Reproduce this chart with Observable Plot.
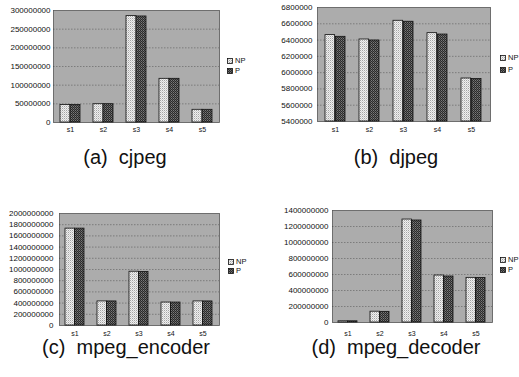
<!DOCTYPE html>
<html>
<head>
<meta charset="utf-8">
<script src="https://cdn.jsdelivr.net/npm/d3@7"></script>
<script src="https://cdn.jsdelivr.net/npm/@observablehq/plot@0.6"></script>
<style>
  html, body { margin: 0; padding: 0; background: #fff; }
  #root { position: relative; width: 519px; height: 377px; overflow: hidden; font-family: "Liberation Sans", Arial, sans-serif; }
  .cap { position: absolute; width: 300px; text-align: center; font-size: 20px; line-height: 20px; white-space: pre; color: #111; }
  .leg { position: absolute; font-size: 7.5px; line-height: 8px; color: #111; display: flex; align-items: center; }
  .leg svg { margin-right: 2px; }
</style>
</head>
<body>
<svg width="0" height="0" style="position:absolute">
  <defs>
    <pattern id="bg" width="2" height="2" patternUnits="userSpaceOnUse">
      <rect width="2" height="2" fill="#c8c8c8"/>
      <rect x="0" y="0" width="1" height="1" fill="#888888"/>
      <rect x="1" y="1" width="1" height="1" fill="#979797"/>
    </pattern>
    <pattern id="npPat" width="2" height="2" patternUnits="userSpaceOnUse">
      <rect width="2" height="2" fill="#f0f0f0"/>
      <rect x="0" y="0" width="1" height="1" fill="#a4a4a4"/>
      <rect x="1" y="1" width="1" height="1" fill="#cfcfcf"/>
    </pattern>
    <pattern id="pPat" width="2" height="2" patternUnits="userSpaceOnUse">
      <rect width="2" height="2" fill="#2a2a2a"/>
      <rect x="1" y="0" width="1" height="1" fill="#7a7a7a"/>
      <rect x="0" y="1" width="1" height="1" fill="#5a5a5a"/>
    </pattern>
  </defs>
</svg>
<div id="root"></div>
<script>
const categories = ["s1", "s2", "s3", "s4", "s5"];
const seriesNames = ["NP", "P"];

const cjpegNP = [47000000, 49000000, 285000000, 117000000, 34000000];
const cjpegP  = [47000000, 49000000, 284000000, 117000000, 34000000];
const cjpegTicks = [0, 50000000, 100000000, 150000000, 200000000, 250000000, 300000000];

const djpegNP = [6461000, 6407000, 6637000, 6485000, 5928000];
const djpegP  = [6440000, 6395000, 6625000, 6468000, 5922000];
const djpegTicks = [5400000, 5600000, 5800000, 6000000, 6200000, 6400000, 6600000, 6800000];

const encNP = [1730000000, 430000000, 960000000, 410000000, 430000000];
const encP  = [1730000000, 430000000, 955000000, 410000000, 430000000];
const encTicks = [0, 200000000, 400000000, 600000000, 800000000, 1000000000, 1200000000, 1400000000, 1600000000, 1800000000, 2000000000];

const decNP = [15000000, 135000000, 1287000000, 587000000, 558000000];
const decP  = [15000000, 133000000, 1275000000, 575000000, 557000000];
const decTicks = [0, 200000000, 400000000, 600000000, 800000000, 1000000000, 1200000000, 1400000000];

const captions = ["(a)  cjpeg", "(b)  djpeg", "(c)  mpeg_encoder", "(d)  mpeg_decoder"];

const root = document.getElementById("root");

function panel(o) {
  const rows = categories.map((c, i) => ({cat: c, np: o.np[i], p: o.p[i]}));
  const pi = 0.4, po = 0.2;
  const plotW = o.width - o.ml - o.mr;
  const step = plotW / (categories.length - pi + 2 * po);
  const half = step * (1 - pi) / 2;
  const base = o.ticks[0];
  const domain = [o.ticks[0], o.ticks[o.ticks.length - 1]];
  const chart = Plot.plot({
    width: o.width,
    height: o.height,
    marginLeft: o.ml, marginRight: o.mr, marginTop: o.mt, marginBottom: o.mb,
    style: {fontFamily: "'Liberation Sans', Arial, sans-serif", background: "transparent", color: "#111", overflow: "visible"},
    x: {type: "band", domain: categories, paddingInner: pi, paddingOuter: po, axis: null},
    y: {domain, axis: null},
    marks: [
      Plot.frame({fill: "url(#bg)", stroke: "#555", strokeWidth: 0.8}),
      Plot.gridY(o.ticks.slice(1, -1), {stroke: "#222", strokeOpacity: 0.5, strokeWidth: 0.7, strokeDasharray: "1.5,1.5"}),
      Plot.barY(rows, {x: "cat", y1: base, y2: "np", fill: "url(#npPat)", stroke: "#111", strokeWidth: 0.8, insetRight: half}),
      Plot.barY(rows, {x: "cat", y1: base, y2: "p", fill: "url(#pPat)", stroke: "#111", strokeWidth: 0.8, insetLeft: half}),
      Plot.axisY(o.ticks, {tickSize: 0, tickPadding: o.yPad, tickFormat: d3.format("d"), label: null, fontSize: 8}),
      Plot.axisX({tickSize: 0, tickPadding: o.xPad, label: null, fontSize: 7})
    ]
  });
  chart.style.position = "absolute";
  chart.style.left = o.left + "px";
  chart.style.top = o.top + "px";
  root.appendChild(chart);

  // legend
  const pats = ["npPat", "pPat"];
  seriesNames.forEach((name, i) => {
    const d = document.createElement("div");
    d.className = "leg";
    d.style.left = o.legX + "px";
    d.style.top = (o.legY[i] - 4) + "px";
    d.innerHTML = `<svg width="6" height="6"><rect x="0.5" y="0.5" width="5" height="5" fill="url(#${pats[i]})" stroke="#111" stroke-width="0.8"/></svg><span>${name}</span>`;
    root.appendChild(d);
  });

  const cap = document.createElement("div");
  cap.className = "cap";
  cap.textContent = o.caption;
  cap.style.left = (o.capX - 150) + "px";
  cap.style.top = o.capY + "px";
  root.appendChild(cap);
}

panel({np: cjpegNP, p: cjpegP, ticks: cjpegTicks, left: 0, top: 0, width: 260, height: 140,
  ml: 53, mr: 41, mt: 10, mb: 18, yPad: 3, xPad: 5, legX: 227, legY: [61, 71], caption: captions[0], capX: 125, capY: 147});
panel({np: djpegNP, p: djpegP, ticks: djpegTicks, left: 260, top: 0, width: 259, height: 140,
  ml: 57, mr: 29, mt: 7, mb: 19, yPad: 5, xPad: 6, legX: 500, legY: [58, 70], caption: captions[1], capX: 396, capY: 147});
panel({np: encNP, p: encP, ticks: encTicks, left: 0, top: 190, width: 260, height: 160,
  ml: 59, mr: 41, mt: 23, mb: 25, yPad: 6, xPad: 6, legX: 228, legY: [262, 271], caption: captions[2], capX: 126, capY: 337});
panel({np: decNP, p: decP, ticks: decTicks, left: 260, top: 190, width: 259, height: 160,
  ml: 72, mr: 27, mt: 20, mb: 28, yPad: 4, xPad: 9, legX: 500, legY: [260, 270], caption: captions[3], capX: 396, capY: 337});
</script>
</body>
</html>
